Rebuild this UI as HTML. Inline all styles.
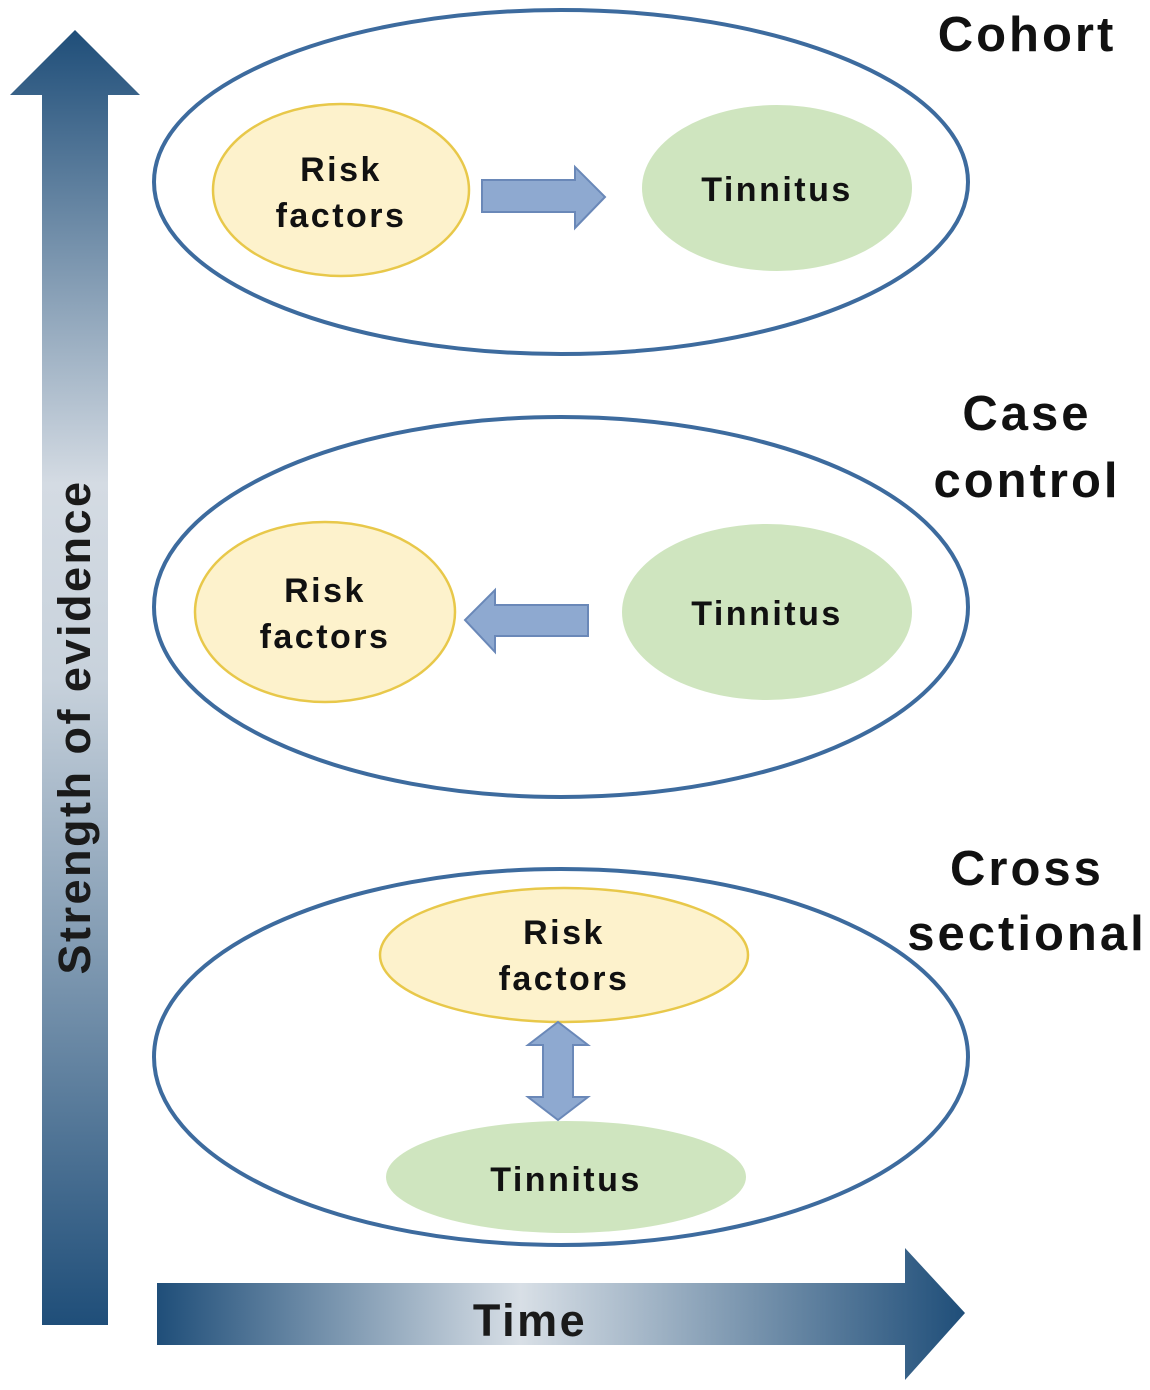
<!DOCTYPE html>
<html><head><style>body{margin:0;background:#fff}svg{display:block}</style></head><body>
<svg width="1150" height="1390" viewBox="0 0 1150 1390" xmlns="http://www.w3.org/2000/svg" font-family="Liberation Sans, sans-serif" font-weight="bold">
<defs>
<linearGradient id="gv" x1="0" y1="0" x2="0" y2="1">
<stop offset="0" stop-color="#1f4e79"/><stop offset="0.35" stop-color="#d4dbe3"/><stop offset="0.5" stop-color="#c8d2dc"/><stop offset="1" stop-color="#1f4e79"/></linearGradient>
<linearGradient id="gh" x1="0" y1="0" x2="1" y2="0">
<stop offset="0" stop-color="#1f4e79"/><stop offset="0.45" stop-color="#d8dfe6"/><stop offset="1" stop-color="#1f4e79"/></linearGradient>
</defs>
<polygon points="42,1325 42,95 10,95 75,30 140,95 108,95 108,1325" fill="url(#gv)"/>
<text transform="translate(90,727) rotate(-90)" text-anchor="middle" font-size="45" letter-spacing="2.5" fill="#1a1a1a">Strength of evidence</text>
<polygon points="157,1283 905,1283 905,1248 965,1313 905,1380 905,1345 157,1345" fill="url(#gh)"/>
<text x="530" y="1336" text-anchor="middle" font-size="45" letter-spacing="2.5" fill="#1a1a1a">Time</text>
<g fill="none" stroke="#3d6b9e" stroke-width="4">
<ellipse cx="561" cy="182" rx="407" ry="172"/>
<ellipse cx="561" cy="607" rx="407" ry="190"/>
<ellipse cx="561" cy="1057" rx="407" ry="188"/>
</g>
<g fill="#fdf2cc" stroke="#e8c84a" stroke-width="2.5">
<ellipse cx="341" cy="190" rx="128" ry="86"/>
<ellipse cx="325" cy="612" rx="130" ry="90"/>
<ellipse cx="564" cy="955" rx="184" ry="67"/>
</g>
<g fill="#cfe5bf">
<ellipse cx="777" cy="188" rx="135" ry="83"/>
<ellipse cx="767" cy="612" rx="145" ry="88"/>
<ellipse cx="566" cy="1177" rx="180" ry="56"/>
</g>
<g fill="#8ea9d0" stroke="#6a88b8" stroke-width="2">
<polygon points="482,180 575,180 575,167 605,197 575,228 575,212 482,212"/>
<polygon points="588,605 495,605 495,590 465,620 495,652 495,636 588,636"/>
<polygon points="543,1045 528,1045 558,1022 588,1045 573,1045 573,1097 588,1097 558,1120 528,1097 543,1097"/>
</g>
<g font-size="34" letter-spacing="2.5" fill="#111" text-anchor="middle">
<text x="341" y="181">Risk</text><text x="341" y="227">factors</text>
<text x="777" y="201">Tinnitus</text>
<text x="325" y="602">Risk</text><text x="325" y="648">factors</text>
<text x="767" y="625">Tinnitus</text>
<text x="564" y="944">Risk</text><text x="564" y="990">factors</text>
<text x="566" y="1191">Tinnitus</text>
</g>
<g font-size="49" letter-spacing="3" fill="#111" text-anchor="middle">
<text x="1027" y="51">Cohort</text>
<text x="1027" y="430">Case</text><text x="1027" y="497">control</text>
<text x="1027" y="885">Cross</text><text x="1027" y="950">sectional</text>
</g>
</svg>
</body></html>
